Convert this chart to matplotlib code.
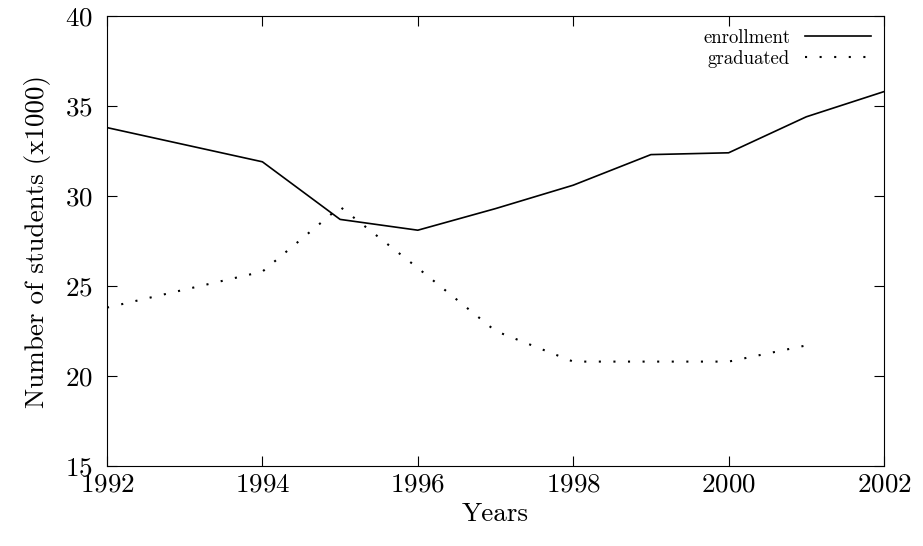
import matplotlib
matplotlib.use('Agg')
import matplotlib.pyplot as plt

plt.rcParams['font.family'] = 'serif'
plt.rcParams['font.serif'] = ['cmr10']
plt.rcParams['axes.formatter.use_mathtext'] = True

years_enr = [1992, 1994, 1995, 1996, 1997, 1998, 1999, 2000, 2001, 2002]
enrollment = [33.8, 31.9, 28.7, 28.1, 29.3, 30.6, 32.3, 32.4, 34.4, 35.8]
years_grad = [1992, 1994, 1995, 1996, 1997, 1998, 1999, 2000, 2001]
graduated = [23.8, 25.8, 29.4, 26.0, 22.5, 20.8, 20.8, 20.8, 21.7]

fig = plt.figure(figsize=(9.23, 5.46), dpi=100)
ax = fig.add_axes([107/923, 80/546, 777/923, 450/546])

ax.plot(years_enr, enrollment, color='black', lw=1.2, label='enrollment')
ax.plot(years_grad, graduated, color='black', lw=1.5, linestyle=(0, (1, 6)), label='graduated')

ax.set_xlim(1992, 2002)
ax.set_ylim(15, 40)
ax.set_xticks(range(1992, 2003, 2))
ax.set_yticks(range(15, 41, 5))
ax.tick_params(direction='in', top=True, right=True, labelsize=19.5, length=7)
ax.tick_params(axis='x', pad=5)
ax.tick_params(axis='y', pad=10)
ax.set_xlabel('Years', fontsize=19.5, labelpad=4)
ax.set_ylabel('Number of students (x1000)', fontsize=19.5, labelpad=10)

ax.legend(loc='upper right', frameon=False, markerfirst=False, fontsize=13.5,
          handlelength=3.5, borderaxespad=0.3, labelspacing=0.15)

fig.savefig('out.png', dpi=100)
